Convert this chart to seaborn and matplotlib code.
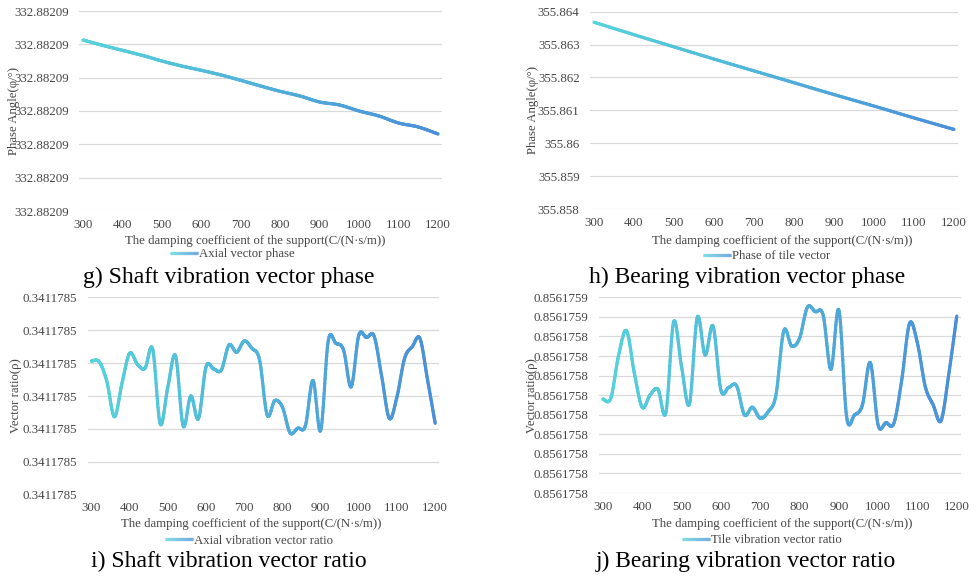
import numpy as np
import matplotlib
matplotlib.use("Agg")
import matplotlib.pyplot as plt
import seaborn as sns
from matplotlib.collections import LineCollection
from matplotlib.colors import LinearSegmentedColormap
from matplotlib.legend_handler import HandlerBase
from matplotlib.lines import Line2D
from matplotlib.ticker import FixedLocator, FuncFormatter

# ---------------------------------------------------------------- data
# damping coefficient of the support, C/(N·s/m)
damping_phase_g = list(range(300, 1201, 50))
damping_phase_h = list(range(300, 1201, 100))
damping_ratio = list(range(300, 1201, 20))
x_ticks = list(range(300, 1201, 100))

shaft_phase = [332.882089513, 332.882089497, 332.882089482, 332.882089467,
               332.882089450, 332.882089435, 332.882089422, 332.882089408,
               332.882089392, 332.882089375, 332.882089359, 332.882089345,
               332.882089327, 332.882089318, 332.882089300, 332.882089285,
               332.882089264, 332.882089252, 332.882089231]
shaft_phase_ticks = [332.8820890, 332.8820891, 332.8820892, 332.8820893,
                     332.8820894, 332.8820895, 332.8820896]

bearing_phase = [355.86368, 355.86330, 355.86293, 355.86256, 355.86220,
                 355.86184, 355.86148, 355.86113, 355.86077, 355.86042]
bearing_phase_ticks = [355.858, 355.859, 355.860, 355.861, 355.862,
                       355.863, 355.864]

shaft_ratio = [0.34117847406, 0.34117847404, 0.34117847345, 0.34117847237,
               0.34117847340, 0.34117847430, 0.34117847397, 0.34117847384,
               0.34117847443, 0.34117847215, 0.34117847328, 0.34117847422,
               0.34117847209, 0.34117847300, 0.34117847231, 0.34117847389,
               0.34117847382, 0.34117847379, 0.34117847455, 0.34117847433,
               0.34117847467, 0.34117847445, 0.34117847410, 0.34117847242,
               0.34117847286, 0.34117847266, 0.34117847188, 0.34117847202,
               0.34117847209, 0.34117847347, 0.34117847195, 0.34117847468,
               0.34117847460, 0.34117847440, 0.34117847328, 0.34117847485,
               0.34117847478, 0.34117847482, 0.34117847359, 0.34117847232,
               0.34117847298, 0.34117847415, 0.34117847450, 0.34117847475,
               0.34117847349, 0.34117847217]
shaft_ratio_ticks = [0.341178470, 0.341178471, 0.341178472, 0.341178473,
                     0.341178474, 0.341178475, 0.341178476]

bearing_ratio = [0.8561758100, 0.8561758104, 0.8561758325, 0.8561758449,
                 0.8561758231, 0.8561758058, 0.8561758121, 0.8561758150,
                 0.8561758030, 0.8561758495, 0.8561758265, 0.8561758075,
                 0.8561758518, 0.8561758325, 0.8561758473, 0.8561758146,
                 0.8561758160, 0.8561758167, 0.8561758019, 0.8561758058,
                 0.8561758002, 0.8561758035, 0.8561758120, 0.8561758449,
                 0.8561758371, 0.8561758410, 0.8561758569, 0.8561758547,
                 0.8561758530, 0.8561758252, 0.8561758555, 0.8561758007,
                 0.8561758019, 0.8561758070, 0.8561758286, 0.8561757967,
                 0.8561757979, 0.8561757976, 0.8561758197, 0.8561758487,
                 0.8561758385, 0.8561758163, 0.8561758070, 0.8561757990,
                 0.8561758232, 0.8561758524]
bearing_ratio_ticks = [0.856175762 + k * 1e-8 for k in range(11)]

x_title = "The damping coefficient of the support(C/(N·s/m))"

# ---------------------------------------------------------------- style
sns.set_style("white")
plt.rcParams["font.family"] = ["Liberation Serif", "DejaVu Serif"]

TEXT_GREY = "#454545"
GRID_GREY = "#D9D9D9"
grad = LinearSegmentedColormap.from_list("teal_blue", ["#55D3DA", "#4A8FDA"])
LW = 2.3

W, H = 976, 579
fig = plt.figure(figsize=(W / 100, H / 100), dpi=100)


def fx(px):
    return px / W


def fy(py):
    return 1 - py / H


def smooth(x, y, n=24):
    """Cubic Bezier smoothing through every point (Catmull-Rom tangents)."""
    x = np.asarray(x, float)
    y = np.asarray(y, float)
    px = np.concatenate([[x[0]], x, [x[-1]]])
    py = np.concatenate([[y[0]], y, [y[-1]]])
    t = np.linspace(0, 1, n, endpoint=False)[:, None]
    xs, ys = [], []
    for i in range(1, len(px) - 2):
        p0 = np.array([px[i], py[i]])
        p3 = np.array([px[i + 1], py[i + 1]])
        c1 = p0 + (np.array([px[i + 1], py[i + 1]]) - np.array([px[i - 1], py[i - 1]])) / 6
        c2 = p3 - (np.array([px[i + 2], py[i + 2]]) - np.array([px[i], py[i]])) / 6
        b = ((1 - t) ** 3) * p0 + 3 * ((1 - t) ** 2) * t * c1 + 3 * (1 - t) * t ** 2 * c2 + t ** 3 * p3
        xs.append(b[:, 0])
        ys.append(b[:, 1])
    xs.append([x[-1]])
    ys.append([y[-1]])
    return np.concatenate(xs), np.concatenate(ys)


class GradientHandler(HandlerBase):
    def create_artists(self, legend, orig_handle, xdescent, ydescent,
                       width, height, fontsize, trans):
        n = 40
        xs = np.linspace(-xdescent, width - xdescent, n + 1)
        y = height / 2 - ydescent
        segs = [[(xs[i], y), (xs[i + 1], y)] for i in range(n)]
        lc = LineCollection(segs, colors=grad(np.linspace(0, 1, n)),
                            linewidths=LW, transform=trans, capstyle="butt")
        return [lc]


def panel(box, x, y, yticks, yfmt, ylabel, xlab_c, ylab_x, legend_c,
          legend_label, caption, caption_c):
    l, t, r, b = box
    ax = fig.add_axes([fx(l), fy(b), fx(r) - fx(l), (b - t) / H])
    # seaborn sets up the scales from the data; the visible stroke is the
    # smoothed gradient line added below
    sns.lineplot(x=x, y=y, ax=ax, lw=0, label=legend_label)
    sx, sy = smooth(x, y)
    pts = np.column_stack([sx, sy])
    segs = np.stack([pts[:-1], pts[1:]], axis=1)
    tn = (sx[:-1] - min(x)) / (max(x) - min(x))
    ax.add_collection(LineCollection(segs, colors=grad(tn), linewidths=LW,
                                     capstyle="round", joinstyle="round",
                                     zorder=3))

    ax.set_xlim(290, 1210)
    ax.set_ylim(yticks[0], yticks[-1])
    ax.xaxis.set_major_locator(FixedLocator(x_ticks))
    ax.yaxis.set_major_locator(FixedLocator(yticks))
    ax.yaxis.set_major_formatter(FuncFormatter(yfmt))
    ax.tick_params(axis="both", length=0, labelsize=9.3, labelcolor=TEXT_GREY)
    ax.tick_params(axis="y", pad=7.5)
    ax.tick_params(axis="x", pad=5.5)
    ax.grid(False)
    ax.yaxis.grid(True, color=GRID_GREY, lw=0.9)
    for s in ax.spines.values():
        s.set_visible(False)

    ax.set_xlabel(x_title, fontsize=9.2, color=TEXT_GREY)
    ax.xaxis.label.set_va("center")
    ax.xaxis.set_label_coords((xlab_c[0] - l) / (r - l), (b - xlab_c[1]) / (b - t))
    ax.set_ylabel(ylabel, fontsize=9.2, color=TEXT_GREY)
    ax.yaxis.label.set_va("center")
    ax.yaxis.set_label_coords((ylab_x - l) / (r - l), 0.5)

    handle = Line2D([], [], color=grad(0.5), lw=LW)
    ax.legend([handle], [legend_label], handler_map={Line2D: GradientHandler()},
              loc="center", bbox_to_anchor=(fx(legend_c[0]), fy(legend_c[1])),
              bbox_transform=fig.transFigure, frameon=False, fontsize=9.2,
              labelcolor=TEXT_GREY, handlelength=2.2, handletextpad=0.05,
              borderpad=0, borderaxespad=0)
    fig.text(fx(caption_c[0]), fy(caption_c[1]), caption, fontsize=17,
             ha="center", va="center", color="black")
    return ax


def fmt5(v, _):
    return f"{v:.5f}"


def fmt_trim(v, _):
    return f"{v:.3f}".rstrip("0").rstrip(".")


def fmt7(v, _):
    return f"{v:.7f}"


panel((79, 11, 442, 211), damping_phase_g, shaft_phase, shaft_phase_ticks, fmt5,
      "Phase Angle(φ/°)", (255.5, 241), 14, (232.5, 254),
      "Axial vector phase", "g) Shaft vibration vector phase", (229, 277))

panel((590, 11.7, 958, 209), damping_phase_h, bearing_phase, bearing_phase_ticks,
      fmt_trim, "Phase Angle(φ/°)", (782, 241), 533, (766.5, 256),
      "Phase of tile vector", "h) Bearing vibration vector phase", (747, 277))

panel((87.7, 297.3, 439, 494.7), damping_ratio, shaft_ratio, shaft_ratio_ticks,
      fmt7, "Vector ratio(ρ)", (251, 524.3), 16, (249, 540.7),
      "Axial vibration vector ratio", "i) Shaft vibration vector ratio",
      (229, 561.7))

panel((599, 297.3, 960.7, 493), damping_ratio, bearing_ratio, bearing_ratio_ticks,
      fmt7, "Vector ratio(ρ)", (782, 524.3), 531.7, (762, 540),
      "Tile vibration vector ratio", "j) Bearing vibration vector ratio",
      (746, 561.7))

fig.savefig("out.png", dpi=100, facecolor="white")
